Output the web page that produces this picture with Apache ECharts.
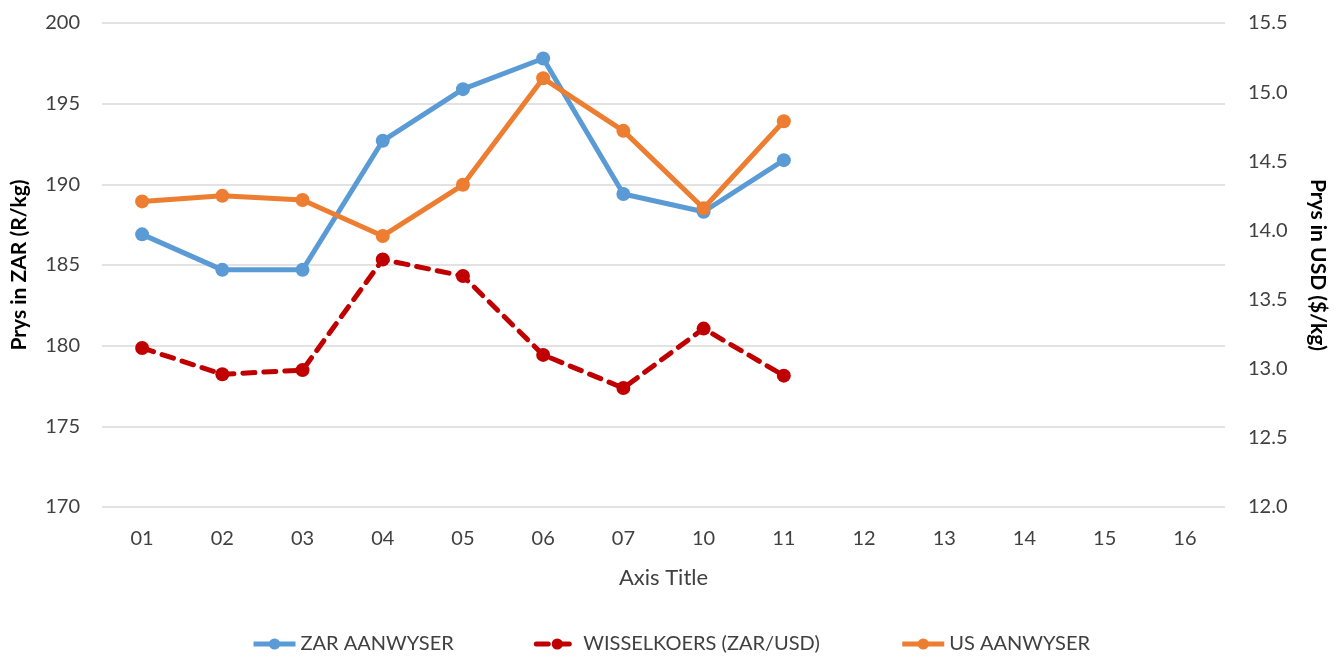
<!DOCTYPE html>
<html>
<head>
<meta charset="utf-8">
<script src="https://cdn.jsdelivr.net/npm/echarts@6/dist/echarts.min.js"></script>
<style>
  html, body { margin: 0; padding: 0; background: #fff; }
  #chart { width: 1341px; height: 659px; }
</style>
</head>
<body>
<div id="chart"></div>
<script>
// kategorieë (maande)
const months = ["01", "02", "03", "04", "05", "06", "07", "10", "11", "12", "13", "14", "15", "16"];
// ZAR aanwyser, R/kg (linker as)
const zarAanwyser = [186.9, 184.7, 184.7, 192.7, 195.9, 197.8, 189.4, 188.3, 191.5];
// wisselkoers ZAR/USD (regter as)
const wisselkoers = [13.15, 12.96, 12.99, 13.79, 13.67, 13.10, 12.86, 13.29, 12.95];
// US aanwyser, $/kg (regter as)
const usAanwyser = [14.21, 14.25, 14.22, 13.96, 14.33, 15.10, 14.72, 14.16, 14.79];

const font = "Lato, 'Open Sans', sans-serif";
const myChart = echarts.init(document.getElementById("chart"));

let axisText = { color: "#404040", fontSize: 20, fontFamily: font };
let nameText = { color: "#000", fontSize: 21, fontWeight: "bold", fontFamily: font };

let option = {
  animation: false,
  grid: { left: 102, right: 116, top: 23, bottom: 152 },
  legend: {
    bottom: 0,
    itemWidth: 42,
    itemHeight: 14,
    itemGap: 80,
    lineStyle: { width: 5 },
    textStyle: { color: "#404040", fontSize: 20, fontFamily: font },
    data: ["ZAR AANWYSER", "WISSELKOERS (ZAR/USD)", "US AANWYSER"]
  },
  xAxis: {
    type: "category",
    data: months,
    name: "Axis Title",
    nameLocation: "middle",
    nameGap: 60,
    nameTextStyle: { color: "#404040", fontSize: 22, fontFamily: font },
    axisLine: { show: false },
    axisTick: { show: false },
    axisLabel: Object.assign({ margin: 22 }, axisText)
  },
  yAxis: [
    {
      type: "value",
      min: 170,
      max: 200,
      interval: 5,
      name: "Prys in ZAR (R/kg)",
      nameLocation: "middle",
      nameGap: 72,
      nameTextStyle: nameText,
      axisLine: { show: false },
      axisTick: { show: false },
      axisLabel: Object.assign({ margin: 22 }, axisText),
      splitLine: { lineStyle: { color: "#d9d9d9", width: 1.5 } }
    },
    {
      type: "value",
      min: 12,
      max: 15.5,
      interval: 0.5,
      name: "Prys in USD ($/kg)",
      nameLocation: "middle",
      nameRotate: -90,
      nameGap: 82,
      nameTextStyle: nameText,
      axisLine: { show: false },
      axisTick: { show: false },
      splitLine: { show: false },
      axisLabel: Object.assign({ margin: 23, formatter: v => v.toFixed(1) }, axisText)
    }
  ],
  series: [
    {
      name: "ZAR AANWYSER",
      type: "line",
      yAxisIndex: 0,
      data: zarAanwyser,
      symbol: "circle",
      symbolSize: 14,
      itemStyle: { color: "#5B9BD5" },
      lineStyle: { width: 5, color: "#5B9BD5" }
    },
    {
      name: "WISSELKOERS (ZAR/USD)",
      type: "line",
      yAxisIndex: 1,
      data: wisselkoers,
      symbol: "circle",
      symbolSize: 14,
      itemStyle: { color: "#C00000" },
      lineStyle: { width: 5, color: "#C00000", type: [12, 9], cap: "round" }
    },
    {
      name: "US AANWYSER",
      type: "line",
      yAxisIndex: 1,
      data: usAanwyser,
      symbol: "circle",
      symbolSize: 14,
      itemStyle: { color: "#ED7D31" },
      lineStyle: { width: 5, color: "#ED7D31" }
    }
  ]
};

myChart.setOption(option);
window.addEventListener("resize", () => {
  myChart.resize();
});
</script>
</body>
</html>
